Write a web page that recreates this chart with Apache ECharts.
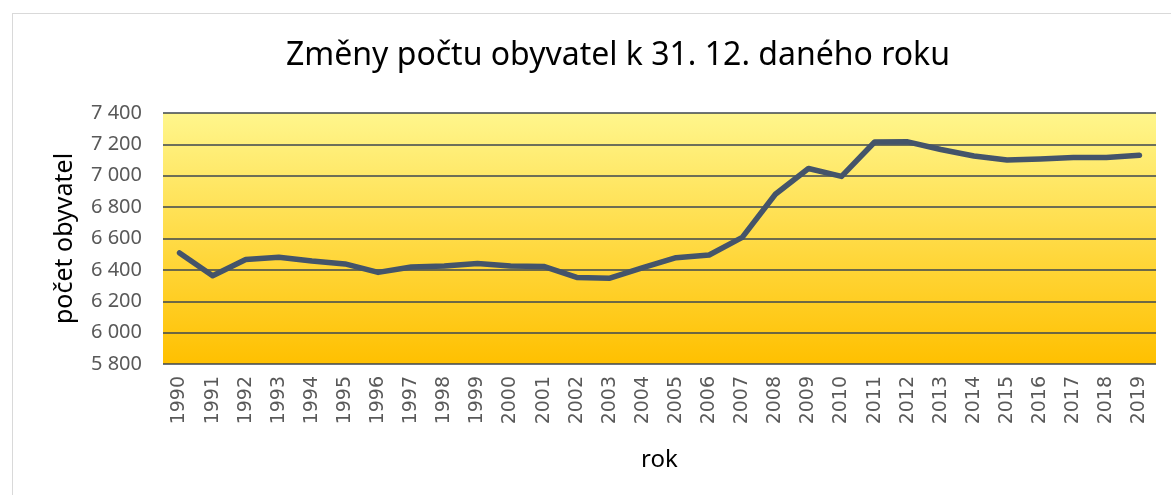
<!DOCTYPE html>
<html>
<head>
<meta charset="utf-8">
<script src="https://cdn.jsdelivr.net/npm/echarts@6/dist/echarts.min.js"></script>
<style>
  html, body { margin: 0; padding: 0; background: #fff; }
  #frame { position: absolute; left: 12px; top: 13px; width: 1160px; height: 490px; border: 1px solid #d9d9d9; box-sizing: border-box; }
  #chart { width: 1171px; height: 495px; }
</style>
</head>
<body>
<div id="frame"></div>
<div id="chart"></div>
<script>
// roky
const years = ['1990', '1991', '1992', '1993', '1994', '1995', '1996', '1997', '1998', '1999',
  '2000', '2001', '2002', '2003', '2004', '2005', '2006', '2007', '2008', '2009',
  '2010', '2011', '2012', '2013', '2014', '2015', '2016', '2017', '2018', '2019']
// počet obyvatel k 31. 12.
const population = [6508, 6362, 6466, 6480, 6456, 6438, 6384, 6418, 6424, 6441,
  6425, 6422, 6352, 6347, 6415, 6478, 6495, 6607, 6882, 7046,
  6996, 7215, 7216, 7167, 7126, 7101, 7107, 7116, 7116, 7131]
const yMin = 5800
const yMax = 7400
const yStep = 200

const chart = echarts.init(document.getElementById('chart'))
const fmt = v => String(v).replace(/\B(?=(\d{3})+(?!\d))/g, ' ')

chart.setOption({
  animation: false,
  title: {
    text: 'Změny počtu obyvatel k 31. 12. daného roku',
    left: 613,
    textAlign: 'center',
    top: 35,
    textStyle: { fontFamily: 'Noto Sans', fontWeight: 'normal', fontSize: 32, color: '#000' }
  },
  grid: {
    left: 163, right: 15, top: 113, bottom: 131,
    show: true,
    borderWidth: 0,
    backgroundColor: {
      type: 'linear', x: 0, y: 0, x2: 0, y2: 1,
      colorStops: [
        { offset: 0, color: '#fff68c' },
        { offset: 1, color: '#ffc000' }
      ]
    }
  },
  xAxis: {
    type: 'category',
    data: years,
    boundaryGap: true,
    name: 'rok',
    nameLocation: 'middle',
    nameGap: 84,
    nameTextStyle: { fontFamily: 'Noto Sans', fontSize: 24, color: '#000' },
    axisLine: { show: false },
    axisTick: { show: false },
    axisLabel: { rotate: 90, interval: 0, margin: 12, color: '#595959', fontSize: 19, fontFamily: 'DejaVu Sans' }
  },
  yAxis: {
    type: 'value',
    min: yMin, max: yMax, interval: yStep,
    name: 'počet obyvatel',
    nameLocation: 'middle',
    nameGap: 86,
    nameRotate: 90,
    nameTextStyle: { fontFamily: 'Noto Sans', fontSize: 25, color: '#000' },
    axisLine: { show: false },
    axisTick: { show: false },
    axisLabel: { formatter: fmt, margin: 21, color: '#595959', fontSize: 20, fontFamily: 'Noto Sans' },
    splitLine: { lineStyle: { color: '#3c4650', width: 1.5 } }
  },
  series: [{
    type: 'line',
    data: population,
    symbol: 'none',
    lineStyle: { color: '#44546a', width: 5.5, cap: 'round', join: 'round' },
    z: 5
  }]
})
</script>
</body>
</html>
